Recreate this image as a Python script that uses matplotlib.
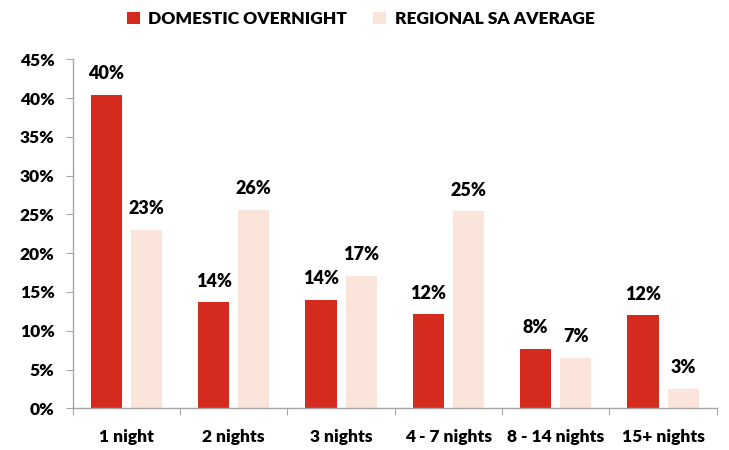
import numpy as np
import matplotlib
matplotlib.use("Agg")
import matplotlib.pyplot as plt
from matplotlib.ticker import PercentFormatter, FixedLocator

# データ
categories = ["1 night", "2 nights", "3 nights", "4 - 7 nights", "8 - 14 nights", "15+ nights"]
domestic = [40.4, 13.7, 14.0, 12.1, 7.7, 12.0]
regional = [23.0, 25.6, 17.1, 25.4, 6.5, 2.5]
domestic_labels = ["40%", "14%", "14%", "12%", "8%", "12%"]
regional_labels = ["23%", "26%", "17%", "25%", "7%", "3%"]
series_names = ["DOMESTIC OVERNIGHT", "REGIONAL SA AVERAGE"]

RED = "#D52B1E"
PEACH = "#FBE5DB"
AXIS_GREY = "#A6A6A6"
FS = 12.5

plt.rcParams['font.family'] = ['Lato', 'DejaVu Sans']
plt.rcParams['font.weight'] = 'heavy'

fig = plt.figure(figsize=(7.29, 4.5), dpi=100)
ax = fig.add_axes([0.0997, 0.0927, 0.8834, 0.7756])

x = np.arange(len(categories))
w = 0.29
off = 0.187
b1 = ax.bar(x - off, domestic, w, color=RED, label=series_names[0])
b2 = ax.bar(x + off, regional, w, color=PEACH, label=series_names[1])

# データラベル
for bars, labels in [(b1, domestic_labels), (b2, regional_labels)]:
    for rect, lab in zip(bars, labels):
        ax.annotate(lab, (rect.get_x() + rect.get_width() / 2, rect.get_height()),
                    xytext=(0, 9), textcoords="offset points",
                    ha="center", va="bottom", fontsize=FS + 0.5, fontweight="heavy")

ax.set_xlim(-0.5, len(categories) - 0.5)
ax.set_ylim(0, 45)
ax.set_yticks(np.arange(0, 46, 5))
ax.yaxis.set_major_formatter(PercentFormatter(decimals=0))

# x軸：境界に目盛り、中央にラベル
ax.xaxis.set_major_locator(FixedLocator(np.arange(-0.5, len(categories), 1.0)))
ax.xaxis.set_minor_locator(FixedLocator(x))
ax.set_xticklabels([])
ax.set_xticklabels(categories, minor=True)
ax.tick_params(axis="x", which="major", direction="out", length=5, color=AXIS_GREY)
ax.tick_params(axis="x", which="minor", length=0, pad=15, labelsize=FS)
ax.tick_params(axis="y", direction="out", length=5, color=AXIS_GREY, labelsize=FS, pad=8)

for s in ["top", "right"]:
    ax.spines[s].set_visible(False)
for s in ["left", "bottom"]:
    ax.spines[s].set_color(AXIS_GREY)
    ax.spines[s].set_linewidth(1.0)

for lab in ax.get_yticklabels() + ax.get_xticklabels(minor=True):
    lab.set_fontweight("heavy")

fig.legend(loc="upper center", bbox_to_anchor=(0.495, 1.01), ncol=2, frameon=False,
           handlelength=0.75, handleheight=0.75, handletextpad=0.5,
           columnspacing=1.5, prop={"weight": "heavy", "size": FS})

fig.savefig("out.png", dpi=100)
